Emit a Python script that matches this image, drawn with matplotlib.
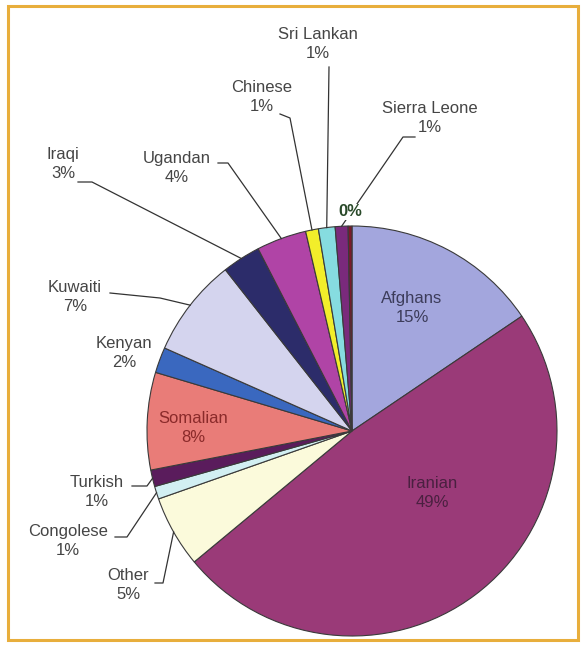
import numpy as np
import matplotlib
matplotlib.use("Agg")
import matplotlib.pyplot as plt
from matplotlib.patches import Rectangle

plt.rcParams['font.family'] = ['Liberation Sans', 'DejaVu Sans']

categories = ["Afghans", "Iranian", "Other", "Congolese", "Turkish", "Somalian",
              "Kenyan", "Kuwaiti", "Iraqi", "Ugandan", "Chinese", "Sri Lankan",
              "Sierra Leone", "Unknown"]
values = [15.4, 48.0, 5.6, 1.0, 1.3, 7.6, 2.0, 7.7, 3.0, 3.9, 1.0, 1.3, 1.0, 0.3]
pct_labels = ["15%", "49%", "5%", "1%", "1%", "8%", "2%", "7%", "3%", "4%",
              "1%", "1%", "1%", "0%"]
colors = ["#a3a6dd", "#9a3a78", "#fbfadb", "#d2eff2", "#5a1c5c", "#e97c78",
          "#3a68bf", "#d4d4ee", "#2c2c6a", "#b044a6", "#f2ee2a", "#86dce0",
          "#7a2a7c", "#7a1a2a"]

W, H = 585, 646
fig = plt.figure(figsize=(W / 100, H / 100), dpi=100)
fig.patch.set_facecolor("white")

# border
fig.patches.append(Rectangle((8 / W, 6 / H), (578 - 8) / W, (640 - 6) / H,
                             transform=fig.transFigure, fill=False,
                             edgecolor="#e8ae3c", linewidth=2.2))

cx, cy, R = 352, 431, 205
ax = fig.add_axes([(cx - R) / W, (H - cy - R) / H, 2 * R / W, 2 * R / H])

wedges, _ = ax.pie(values, colors=colors, startangle=90, counterclock=False,
                   radius=1.0, wedgeprops=dict(edgecolor="#3a3a3a", linewidth=0.8))
ax.set_xlim(-1, 1)
ax.set_ylim(-1, 1)
ax.set_aspect("auto")
ax.axis("off")


def P(xp, yp):
    return ((xp - cx) / R, (cy - yp) / R)


def edge(i, r=1.0):
    w = wedges[i]
    th = np.deg2rad((w.theta1 + w.theta2) / 2)
    return (r * np.cos(th), r * np.sin(th))


fs = 12.0
tc = "#454545"
ls = 1.4

# inside labels
inside = {0: (412, 308, "#3c3c5a"), 1: (432, 493, "#4a2040"), 5: (193, 428, "#8a2a2a")}
for i, (xp, yp, c) in inside.items():
    ax.text(*P(xp, yp), f"{categories[i]}\n{pct_labels[i]}", ha="center", va="center",
            fontsize=fs, color=c, linespacing=ls)

# outside labels: text pos, line waypoints (pixels)
outside = {
    2: ((128, 585), [(155, 583), (163, 583)]),
    3: ((68, 541), [(115, 537), (127, 537)]),
    4: ((97, 492), [(132, 486), (147, 486)]),
    6: ((124, 353), []),
    7: ((75, 297), [(110, 293), (160, 298)]),
    8: ((63, 164), [(78, 182), (92, 182)]),
    9: ((177, 168), [(218, 163), (228, 163)]),
    10: ((262, 97), [(280, 114), (290, 118)]),
    11: ((318, 44), [(329, 67)]),
    12: ((430, 118), [(415, 137), (403, 137)]),
}
for i, ((xp, yp), pts) in outside.items():
    ax.text(*P(xp, yp), f"{categories[i]}\n{pct_labels[i]}", ha="center", va="center",
            fontsize=fs, color=tc, linespacing=ls)
    if pts:
        xs = [P(*p)[0] for p in pts]
        ys = [P(*p)[1] for p in pts]
        ex, ey = edge(i)
        xs.append(ex)
        ys.append(ey)
        ax.plot(xs, ys, color="#333333", lw=0.9, clip_on=False)

# 0% label
ax.text(*P(350, 212), pct_labels[13], ha="center", va="center", fontsize=12,
        fontweight="bold", color="#2a4a2a",
        bbox=dict(boxstyle="square,pad=0.05", fc="white", ec="none"))

fig.savefig("out.png", dpi=100)
